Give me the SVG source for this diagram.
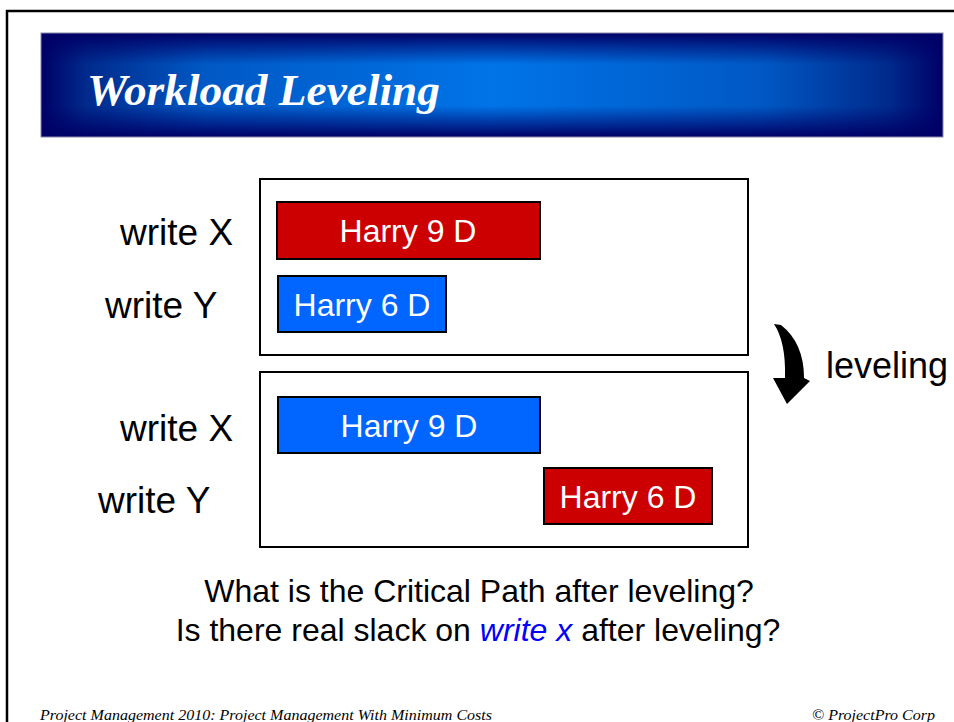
<svg xmlns="http://www.w3.org/2000/svg" width="954" height="722" viewBox="0 0 954 722">
<defs>
<linearGradient id="hg" x1="0" y1="0" x2="1" y2="0">
<stop offset="0" stop-color="#000066"/>
<stop offset="0.05" stop-color="#002a8c"/>
<stop offset="0.18" stop-color="#0058c4"/>
<stop offset="0.5" stop-color="#0074e8"/>
<stop offset="0.8" stop-color="#0058c4"/>
<stop offset="0.94" stop-color="#002a8c"/>
<stop offset="1" stop-color="#000066"/>
</linearGradient>
<linearGradient id="vg" x1="0" y1="0" x2="0" y2="1">
<stop offset="0" stop-color="#000066" stop-opacity="1"/>
<stop offset="0.3" stop-color="#000066" stop-opacity="0"/>
<stop offset="0.7" stop-color="#000066" stop-opacity="0"/>
<stop offset="1" stop-color="#000066" stop-opacity="1"/>
</linearGradient>
<style>
.lbl{font-family:"Liberation Sans",Arial,sans-serif;font-size:37px;fill:#000}
.bar{stroke:#000;stroke-width:2}
.bt{font-family:"Liberation Sans",Arial,sans-serif;font-size:32px;fill:#fff;text-anchor:middle}
.frame{fill:#fff;stroke:#000;stroke-width:2}
.q{font-family:"Liberation Sans",Arial,sans-serif;font-size:32px;fill:#000;text-anchor:middle}
.ft{font-family:"Liberation Serif","Times New Roman",serif;font-style:italic;font-size:15px;fill:#000}
</style>
</defs>
<rect width="954" height="722" fill="#fff"/>
<path d="M7,722 V11 H954" fill="none" stroke="#000" stroke-width="2.5"/>
<g id="header">
<rect x="41" y="33" width="902" height="104" fill="url(#hg)"/>
<rect x="41" y="33" width="902" height="104" fill="url(#vg)" stroke="#8888aa" stroke-width="1"/>
<text x="87" y="105" font-family="Liberation Serif,'Times New Roman',serif" font-weight="bold" font-style="italic" font-size="45" fill="#fff" textLength="353" lengthAdjust="spacingAndGlyphs">Workload Leveling</text>
</g>
<g id="before">
<rect class="frame" x="260" y="179" width="488" height="176"/>
<text class="lbl" x="120" y="245">write X</text>
<text class="lbl" x="105" y="318">write Y</text>
<g id="before-x">
<rect class="bar" x="277" y="202" width="263" height="57" fill="#cc0000"/>
<text class="bt" x="408" y="242">Harry 9 D</text>
</g>
<g id="before-y">
<rect class="bar" x="278" y="276" width="168" height="56" fill="#0066ff"/>
<text class="bt" x="362" y="316">Harry 6 D</text>
</g>
</g>
<g id="after">
<rect class="frame" x="260" y="372" width="488" height="175"/>
<text class="lbl" x="120" y="441">write X</text>
<text class="lbl" x="98" y="513">write Y</text>
<g id="after-x">
<rect class="bar" x="278" y="397" width="262" height="56" fill="#0066ff"/>
<text class="bt" x="409" y="437">Harry 9 D</text>
</g>
<g id="after-y">
<rect class="bar" x="544" y="468" width="168" height="56" fill="#cc0000"/>
<text class="bt" x="628" y="508">Harry 6 D</text>
</g>
</g>
<g id="connectors">
<path d="M774,324 L781,325 Q804,343 804,378 L810,381 L787,404 L773,378 L785,378 Q786,342 774,324 Z" fill="#000"/>
</g>
<g id="leveling-label">
<text x="826" y="378" font-family="Liberation Sans,Arial,sans-serif" font-size="36" fill="#000">leveling</text>
</g>
<g id="questions">
<text class="q" x="479" y="602">What is the Critical Path after leveling?</text>
<text class="q" x="478" y="641">Is there real slack on <tspan fill="#0000ff" font-style="italic">write x</tspan> after leveling?</text>
</g>
<g id="footer">
<text class="ft" x="40" y="720" textLength="452" lengthAdjust="spacingAndGlyphs">Project Management 2010: Project Management With Minimum Costs</text>
<text class="ft" x="812" y="720" textLength="123" lengthAdjust="spacingAndGlyphs">© ProjectPro Corp</text>
</g>
</svg>
